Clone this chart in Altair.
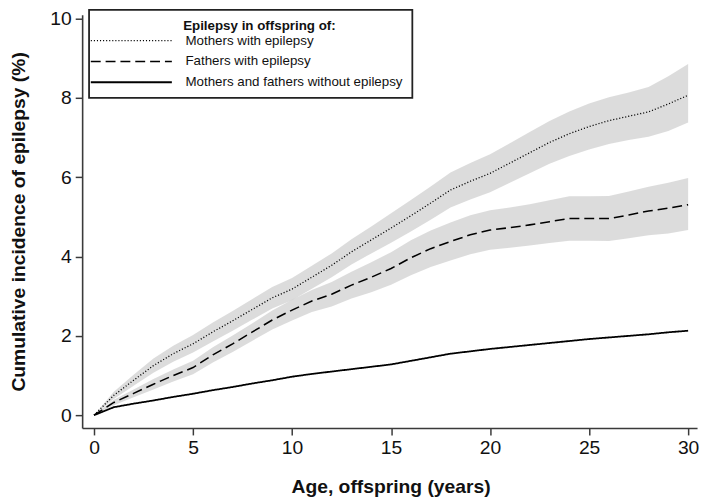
import altair as alt
import pandas as pd

age = list(range(31))

mothers = [0, 0.5, 0.88, 1.25, 1.55, 1.8, 2.1, 2.38, 2.67, 2.96, 3.18, 3.48, 3.78, 4.12, 4.42,
           4.72, 5.03, 5.35, 5.68, 5.9, 6.1, 6.36, 6.62, 6.88, 7.1, 7.28, 7.43, 7.54, 7.65, 7.85, 8.07]
mothers_lo = [0, 0.41, 0.74, 1.07, 1.35, 1.58, 1.86, 2.13, 2.41, 2.69, 2.9, 3.19, 3.48, 3.8, 4.08,
              4.35, 4.63, 4.93, 5.24, 5.44, 5.62, 5.86, 6.1, 6.34, 6.54, 6.7, 6.84, 6.94, 7.02, 7.17, 7.38]
mothers_hi = [0, 0.59, 1.02, 1.43, 1.75, 2.02, 2.34, 2.63, 2.93, 3.23, 3.46, 3.77, 4.08, 4.44, 4.76,
              5.09, 5.43, 5.77, 6.12, 6.36, 6.58, 6.86, 7.14, 7.42, 7.66, 7.86, 8.02, 8.14, 8.28, 8.55, 8.86]

fathers = [0, 0.32, 0.55, 0.78, 1.0, 1.2, 1.52, 1.8, 2.1, 2.4, 2.65, 2.88, 3.05, 3.28, 3.48,
           3.7, 3.97, 4.2, 4.38, 4.55, 4.67, 4.73, 4.8, 4.88, 4.96, 4.96, 4.96, 5.05, 5.15, 5.22, 5.31]
fathers_lo = [0, 0.25, 0.45, 0.65, 0.85, 1.03, 1.33, 1.59, 1.88, 2.16, 2.39, 2.6, 2.74, 2.94, 3.1,
              3.29, 3.53, 3.74, 3.9, 4.06, 4.17, 4.22, 4.28, 4.34, 4.4, 4.4, 4.39, 4.46, 4.54, 4.58, 4.67]
fathers_hi = [0, 0.39, 0.65, 0.91, 1.15, 1.37, 1.71, 2.01, 2.32, 2.64, 2.91, 3.16, 3.36, 3.62, 3.86,
              4.11, 4.41, 4.66, 4.86, 5.04, 5.17, 5.24, 5.32, 5.42, 5.52, 5.52, 5.53, 5.64, 5.76, 5.86, 5.98]

neither = [0, 0.2, 0.29, 0.37, 0.46, 0.54, 0.63, 0.71, 0.8, 0.88, 0.97, 1.04, 1.1, 1.16, 1.22,
           1.28, 1.37, 1.46, 1.55, 1.61, 1.67, 1.72, 1.77, 1.82, 1.87, 1.92, 1.96, 2.0, 2.04, 2.09, 2.13]

groups = ["Mothers with epilepsy", "Fathers with epilepsy", "Mothers and fathers without epilepsy"]
x_ticks = [0, 5, 10, 15, 20, 25, 30]
y_ticks = [0, 2, 4, 6, 8, 10]

line_df = pd.DataFrame({
    "age": age * 3,
    "group": [groups[0]] * 31 + [groups[1]] * 31 + [groups[2]] * 31,
    "value": mothers + fathers + neither,
})
band_df = pd.DataFrame({
    "age": age * 2,
    "group": [groups[0]] * 31 + [groups[1]] * 31,
    "lower": mothers_lo + fathers_lo,
    "upper": mothers_hi + fathers_hi,
})

FONT = "Liberation Sans"
xscale = alt.Scale(domain=[-0.6, 30.45], nice=False, zero=False)
yscale = alt.Scale(domain=[-0.324, 10.1], nice=False, zero=False)

xaxis = alt.Axis(values=x_ticks, title="Age, offspring (years)", grid=False,
                 titleX=312, titleY=59, titleBaseline="middle", titleAlign="center")
yaxis = alt.Axis(values=y_ticks, title="Cumulative incidence of epilepsy (%)", grid=False,
                 titleX=-64, titleY=209, titleAngle=270, titleBaseline="middle", titleAlign="center")

bands = alt.Chart(band_df).mark_area(color="#c7c7c7", opacity=0.63).encode(
    x=alt.X("age:Q", scale=xscale, axis=xaxis),
    y=alt.Y("lower:Q", scale=yscale, axis=yaxis),
    y2="upper:Q",
    detail="group:N",
)

lines = alt.Chart(line_df).mark_line(color="black").encode(
    x=alt.X("age:Q", scale=xscale, axis=xaxis),
    y=alt.Y("value:Q", scale=yscale, axis=yaxis),
    strokeWidth=alt.StrokeWidth("group:N", scale=alt.Scale(domain=groups, range=[1.3, 1.8, 1.9]),
                                legend=None),
    strokeDash=alt.StrokeDash(
        "group:N",
        scale=alt.Scale(domain=groups, range=[[1.1, 2.0], [10, 5], [1, 0]]),
        legend=alt.Legend(
            title="\u200b" + "\u00a0" * 23 + "Epilepsy in offspring of:",
            orient="none", legendX=7, legendY=-5,
            symbolType="M-2.8,0H13.6", symbolSize=100,
            symbolStrokeColor="black", symbolStrokeWidth=1.6,
            labelOffset=75, titlePadding=2, rowPadding=6,
        ),
    ),
)

chart = alt.layer(bands, lines).properties(
    width=622, height=418,
    autosize=alt.AutoSizeParams(type="none"),
    padding={"left": 75, "top": 4, "right": 4, "bottom": 71},
).configure_view(strokeWidth=0).configure_axis(
    domainColor="#3a3a3a", domainWidth=1.6, tickColor="#3a3a3a", tickWidth=1.5, tickSize=7,
    labelFont=FONT, labelFontSize=19.5, labelColor="#111", labelPadding=4,
    titleFont=FONT, titleFontSize=19.5, titleFontWeight="bold", titleColor="#111",
).configure_legend(
    strokeColor="#222", strokeWidth=1.8, fillColor="white", padding=9,
    labelFont=FONT, labelFontSize=13.5, labelColor="#111",
    titleFont=FONT, titleFontSize=13.5, titleFontWeight="bold", titleColor="#111",
    labelLimit=400, titleLimit=400,
)

chart.save("out.html", embed_options={"renderer": "svg", "actions": False})
